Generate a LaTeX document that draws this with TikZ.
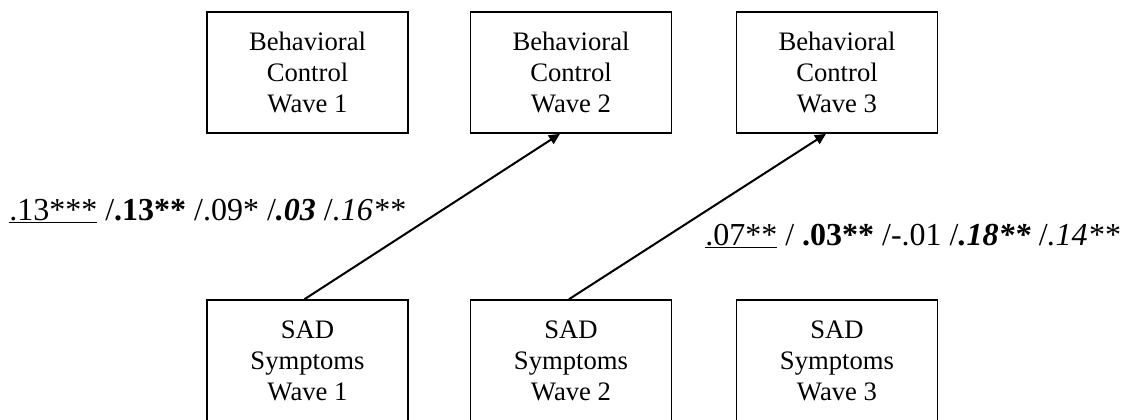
\documentclass[tikz,border=0pt]{standalone}
\usepackage{fontspec}
\setmainfont{Liberation Serif}
\usetikzlibrary{arrows.meta}
\newcommand{\px}{0.75pt}
\begin{document}
\begin{tikzpicture}[x=0.75pt,y=-0.75pt,
  varbox/.style={draw, line width=1.2pt, minimum width=201*\px, minimum height=121*\px,
    align=center, inner sep=0pt, font=\fontsize{20}{23.25}\selectfont},
  patharrow/.style={line width=1.5pt, -{Triangle[length=11*\px,width=10*\px]}},
  coeflabel/.style={anchor=base west, inner sep=0pt, font=\fontsize{24}{28}\selectfont}]
\useasboundingbox (0,0) rectangle (1129,419);
\clip (0,0) rectangle (1129,419);
\node[varbox] (b1) at (307.5,72.5) {Behavioral\\Control\\Wave 1};
\node[varbox] (b2) at (571,72.5) {Behavioral\\Control\\Wave 2};
\node[varbox] (b3) at (837,72.5) {Behavioral\\Control\\Wave 3};
\node[varbox] (s1) at (307.5,360.5) {SAD\\Symptoms\\Wave 1};
\node[varbox] (s2) at (571,360.5) {SAD\\Symptoms\\Wave 2};
\node[varbox] (s3) at (837,360.5) {SAD\\Symptoms\\Wave 3};
\draw[patharrow] ([xshift=-3*\px]s1.north) -- ([xshift=-11*\px]b2.south);
\draw[patharrow] ([xshift=-2*\px]s2.north) -- ([xshift=-11*\px]b3.south);
\node[coeflabel] (l1) at (9,220) {\underline{.13***} /\textbf{.13**} /.09* /\textbf{\textit{.03}} /\textit{.16**}};
\node[coeflabel] (l2) at (705,245) {\underline{.07**} / \textbf{.03**} /-.01 /\textbf{\textit{.18**}} /\textit{.14**}};
\end{tikzpicture}
\end{document}
